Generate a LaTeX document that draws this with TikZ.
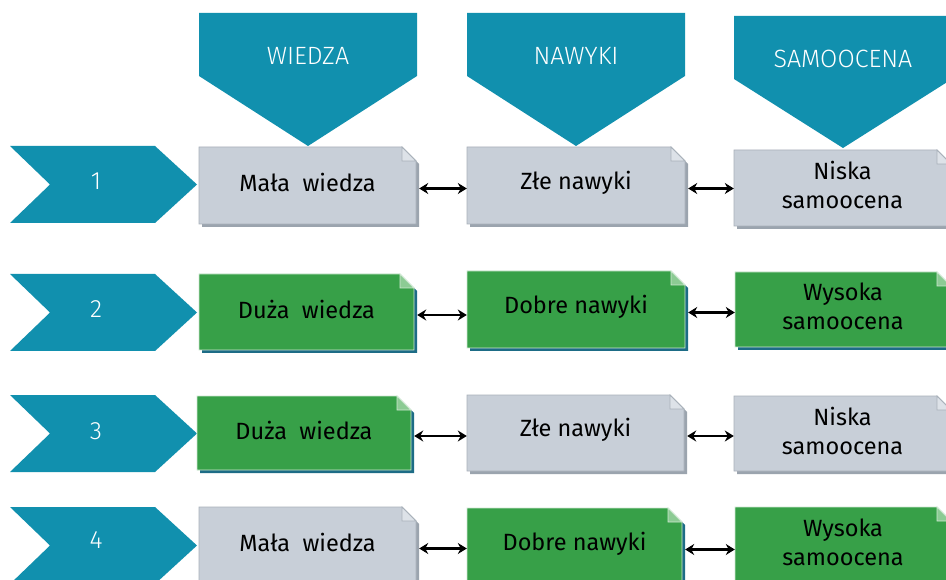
\documentclass[tikz,border=0pt]{standalone}
\usepackage{fontspec}
\setmainfont{Fira Sans}
\newfontfamily\lightfont{Fira Sans Light}
\usetikzlibrary{arrows.meta,calc}
\definecolor{teal}{HTML}{1190AE}
\definecolor{gfill}{HTML}{C8CFD8}
\definecolor{gline}{HTML}{A9B1BA}
\definecolor{gshadow}{HTML}{9BA4AE}
\definecolor{gfold}{HTML}{DDE2E8}
\definecolor{nfill}{HTML}{37A048}
\definecolor{nline}{HTML}{CFE8D2}
\definecolor{nshadow}{HTML}{1D6C86}
\definecolor{nfold}{HTML}{8CCB94}
\tikzset{
  grayshadow/.style={fill=gshadow},
  graybody/.style={fill=gfill,draw=gline,line width=0.8pt},
  grayfold/.style={fill=gfold,draw=gline,line width=0.8pt},
  greenshadow/.style={fill=nshadow},
  greenbody/.style={fill=nfill,draw=nline,line width=0.8pt},
  greenfold/.style={fill=nfold,draw=nline,line width=0.8pt},
  boxtext/.style={rectangle,inner sep=0pt,align=center,text=black,
    font=\fontsize{23.5}{29}\selectfont},
  headtext/.style={text=white,font=\lightfont\fontsize{25}{28}\selectfont},
  numtext/.style={text=white,font=\lightfont\fontsize{25}{26}\selectfont},
  link/.style={{Stealth[length=9pt,width=11pt]}-{Stealth[length=9pt,width=11pt]},line width=2.4pt,black},
}
% name, x1, y1, x2, y2, kind, text
\newcommand\docbox[7]{%
  \fill[#6shadow] (#2+3,#3+3) -- (#4+3-14,#3+3) -- (#4+3,#3+3+14) -- (#4+3,#5+3) -- (#2+3,#5+3) -- cycle;
  \filldraw[#6body] (#2,#3) -- (#4-14,#3) -- (#4,#3+14) -- (#4,#5) -- (#2,#5) -- cycle;
  \filldraw[#6fold] (#4-14,#3) -- (#4-14,#3+14) -- (#4,#3+14) -- cycle;
  \node[boxtext,minimum width={#4-#2},minimum height={#5-#3}] (#1) at ({(#2+#4)/2},{(#3+#5)/2-3}) {#7};%
}
% name, top y, bottom y, text, text y
\newcommand\chev[5]{%
  \fill[teal] (10,#2) -- (155,#2) -- (197,{(#2+#3)/2}) -- (155,#3) -- (10,#3) -- (50,{(#2+#3)/2}) -- cycle;
  \node[numtext] (#1) at (96,#5) {#4};%
}
% name, left x, top y, rect bottom, tip y, text
\newcommand\header[6]{%
  \fill[teal] (#2,#3) -- (#2+218,#3) -- (#2+218,#4) -- (#2+109,#5) -- (#2,#4) -- cycle;
  \node[headtext] (#1) at (#2+109,#3+43) {#6};%
}
\begin{document}
\begin{tikzpicture}[x=1pt,y=-1pt]
\useasboundingbox (0,0) rectangle (946,580);
\fill[white] (0,0) rectangle (946,580);
\header{h1}{199}{13}{76}{146}{WIEDZA}
\header{h2}{467}{13}{76}{146}{NAWYKI}
\header{h3}{734}{16}{79}{148}{SAMOOCENA}

\chev{c1}{146}{223}{1}{181}
\chev{c2}{274}{351}{2}{309}
\chev{c3}{395}{472}{3}{431}
\chev{c4}{507}{584}{4}{540}

\docbox{b11}{199}{147}{416}{224}{gray}{Mała\ \ wiedza}
\docbox{b12}{467}{147}{685}{224}{gray}{Złe nawyki}
\docbox{b13}{734}{150}{951}{226}{gray}{Niska\\samoocena}

\docbox{b21}{199}{274}{414}{350}{green}{Duża\ \ wiedza}
\docbox{b22}{467}{271}{685}{348}{green}{Dobre nawyki}
\docbox{b23}{735}{272}{951}{347}{green}{Wysoka\\samoocena}

\docbox{b31}{197}{396}{411}{470}{green}{Duża\ \ wiedza}
\docbox{b32}{467}{395}{684}{471}{gray}{Złe nawyki}
\docbox{b33}{734}{396}{951}{471}{gray}{Niska\\samoocena}

\docbox{b41}{199}{507}{416}{584}{gray}{Mała\ \ wiedza}
\docbox{b42}{467}{508}{682}{585}{green}{Dobre nawyki}
\docbox{b43}{735}{507}{951}{584}{green}{Wysoka\\samoocena}

\foreach \r in {1,2,3,4}{
  \draw[link] ($(b\r1.east)+(3,6)$) -- ($(b\r1.east -| b\r2.west)+(0,6)$);
  \draw[link] ($(b\r2.east)+(3,6)$) -- ($(b\r2.east -| b\r3.west)+(0,6)$);
}
\end{tikzpicture}
\end{document}
